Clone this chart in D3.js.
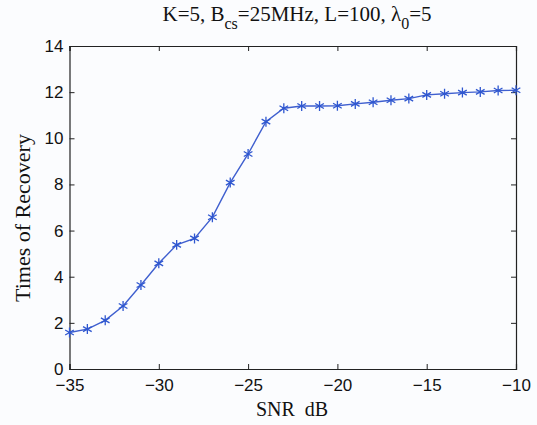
<!DOCTYPE html>
<html>
<head>
<meta charset="utf-8">
<script src="https://cdn.jsdelivr.net/npm/d3@7"></script>
<style>
  html, body { margin: 0; padding: 0; background: #fbfcfe; }
  svg { display: block; }
</style>
</head>
<body>
<svg id="chart" width="537" height="425"></svg>
<script>
// Recovery count versus SNR
const snr = [-35, -34, -33, -32, -31, -30, -29, -28, -27, -26, -25, -24, -23,
             -22, -21, -20, -19, -18, -17, -16, -15, -14, -13, -12, -11, -10];
const recovery = [1.58, 1.73, 2.11, 2.73, 3.64, 4.58, 5.38, 5.66, 6.58, 8.08, 9.32, 10.72, 11.30,
                  11.40, 11.40, 11.41, 11.49, 11.56, 11.65, 11.72, 11.88, 11.93, 11.98, 12.01, 12.07, 12.08];
const xTicks = [-35, -30, -25, -20, -15, -10];
const yTicks = [0, 2, 4, 6, 8, 10, 12, 14];

const svg = d3.select("#chart");
const L = 69.5, R = 516, T = 46, B = 369;

const x = d3.scaleLinear().domain([-35, -10]).range([L, R]);
const y = d3.scaleLinear().domain([0, 14]).range([B, T]);

const axisColor = "#222";
const tickFont = "Arial, 'Liberation Sans', sans-serif";
const serif = "'Times New Roman', 'Liberation Serif', serif";

// Bottom and left axes with inward ticks
const gx = svg.append("g").attr("transform", `translate(0,${B})`)
  .call(d3.axisBottom(x).tickValues(xTicks).tickSize(-5).tickPadding(10).tickFormat(d3.format("d")));
const gy = svg.append("g").attr("transform", `translate(${L},0)`)
  .call(d3.axisLeft(y).tickValues(yTicks).tickSize(-5).tickPadding(6).tickFormat(d3.format("d")));
// Mirrored ticks on top and right
const gt = svg.append("g").attr("transform", `translate(0,${T})`)
  .call(d3.axisTop(x).tickValues(xTicks).tickSize(-5).tickFormat(""));
const gr = svg.append("g").attr("transform", `translate(${R},0)`)
  .call(d3.axisRight(y).tickValues(yTicks).tickSize(-5).tickFormat(""));

[gx, gy, gt, gr].forEach(g => {
  g.select(".domain").attr("stroke", axisColor).attr("stroke-width", 1.2);
  g.selectAll(".tick line").attr("stroke", axisColor);
  g.selectAll(".tick text").attr("fill", "#111").style("font-family", tickFont).style("font-size", "17px");
});

// Series line
const line = d3.line().x((d, i) => x(snr[i])).y(d => y(d));
svg.append("path")
  .datum(recovery)
  .attr("fill", "none")
  .attr("stroke", "#3f5fcf")
  .attr("stroke-width", 1.4)
  .attr("d", line);

// Star markers
const star = d3.symbol().type(d3.symbolAsterisk).size(70);
svg.append("g").selectAll("path")
  .data(recovery)
  .join("path")
  .attr("transform", (d, i) => `translate(${x(snr[i])},${y(d)})`)
  .attr("d", star)
  .attr("fill", "none")
  .attr("stroke", "#2f57d0")
  .attr("stroke-width", 1.3);

// Title
const title = svg.append("text")
  .attr("x", 297).attr("y", 21)
  .attr("text-anchor", "middle")
  .style("font-family", serif).style("font-size", "21px").attr("fill", "#111");
title.append("tspan").text("K=5, B");
title.append("tspan").attr("dy", 8).style("font-size", "16px").text("cs");
title.append("tspan").attr("dy", -8).text("=25MHz, L=100, λ");
title.append("tspan").attr("dy", 8).style("font-size", "16px").text("0");
title.append("tspan").attr("dy", -8).text("=5");

// Axis labels
svg.append("text")
  .attr("x", 292).attr("y", 416)
  .attr("text-anchor", "middle")
  .style("font-family", serif).style("font-size", "20px").attr("fill", "#111")
  .attr("xml:space", "preserve")
  .text("SNR  dB");

svg.append("text")
  .attr("transform", `translate(30,218) rotate(-90)`)
  .attr("text-anchor", "middle")
  .style("font-family", serif).style("font-size", "22px").attr("fill", "#111")
  .text("Times of Recovery");
</script>
</body>
</html>
